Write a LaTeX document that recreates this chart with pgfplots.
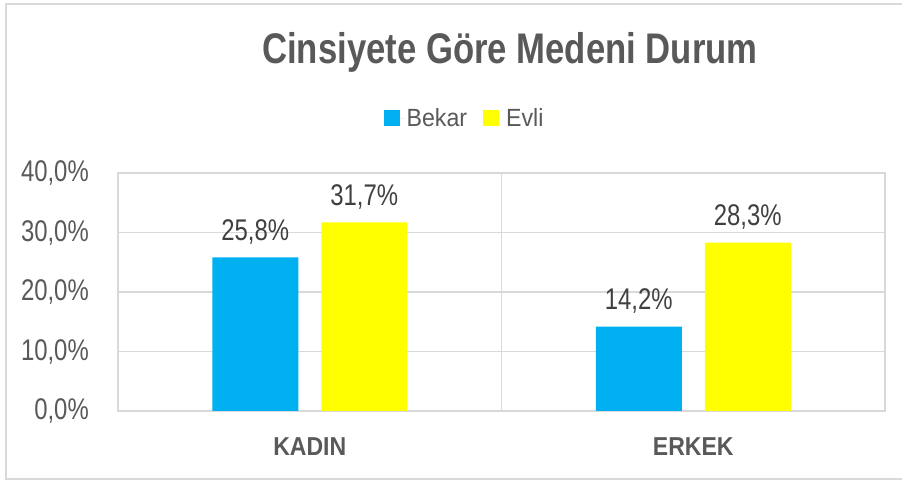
\documentclass[border=0pt]{standalone}
\usepackage{pgfplots}
\pgfplotsset{compat=1.18}
\usepackage{fontspec}
\setmainfont{Liberation Sans}
\newfontfamily\numfont{Liberation Sans}[FakeStretch=0.80]
\newfontfamily\titlefont{Liberation Sans}[FakeStretch=0.81]
\newfontfamily\legfont{Liberation Sans}[FakeStretch=0.93]
\newfontfamily\catfont{Liberation Sans}[FakeStretch=0.89]
\definecolor{bekar}{HTML}{00B0F0}
\definecolor{evli}{HTML}{FFFF00}
\definecolor{txt}{HTML}{595959}
\definecolor{lbl}{HTML}{404040}
\definecolor{grd}{HTML}{D9D9D9}
\begin{document}
\begin{tikzpicture}[x=1bp,y=1bp]
\useasboundingbox (-118,-70) rectangle (784,411);
\draw[grd, line width=1.5bp] (790,407) -- (-112,407) -- (-112,-68) -- (790,-68);
\begin{axis}[
  at={(0,0)}, anchor=south west,
  scale only axis, width=767bp, height=238bp,
  xmin=-0.5, xmax=1.5, ymin=0, ymax=40,
  xtick={0,1}, xticklabels={KADIN,ERKEK},
  minor xtick={0.5},
  ytick={0,10,20,30,40},
  major tick length=0, minor tick length=0,
  ymajorgrids, xminorgrids,
  grid style={grd, line width=1.5bp},
  minor grid style={grd, line width=1.5bp},
  axis line style={grd, line width=1.5bp},
  /pgf/number format/assume math mode=true,
  yticklabel={\numfont\pgfmathprintnumber[fixed,fixed zerofill,precision=1,use comma]{\tick}\%},
  yticklabel style={font=\fontsize{30}{34}\selectfont, text=txt, inner sep=0pt, anchor=east, xshift=-29bp},
  xticklabel style={font=\catfont\bfseries\fontsize{26}{30}\selectfont, text=txt, inner sep=0pt, anchor=base, yshift=-45bp},
  ybar, bar width=86bp,
  nodes near coords={\numfont\pgfmathprintnumber[fixed,fixed zerofill,precision=1,use comma]{\pgfplotspointmeta}\%},
  every node near coord/.append style={font=\fontsize{30}{34}\selectfont, text=lbl, inner sep=0pt, anchor=base, yshift=17bp},
  legend columns=2,
  legend style={at={(0.4518,1.231)}, anchor=center, draw=none, fill=none,
    font=\legfont\fontsize{25}{28}\selectfont, text=txt,
    /tikz/every even column/.append style={column sep=14bp}},
  legend image code/.code={\fill[#1] (0bp,-8bp) rectangle (16bp,8bp); \path (0bp,0bp) -- (21bp,0bp);},
]
\addplot[fill=bekar, draw=none, bar shift=-54.5bp] coordinates {(0,25.8) (1,14.2)};
\addplot[fill=evli, draw=none, bar shift=54.5bp] coordinates {(0,31.7) (1,28.3)};
\legend{Bekar,Evli}
\end{axis}
\node[font=\titlefont\bfseries\fontsize{43}{48}\selectfont, text=txt, anchor=base, inner sep=0pt] at (392,347) {Cinsiyete Göre Medeni Durum};
\end{tikzpicture}
\end{document}
